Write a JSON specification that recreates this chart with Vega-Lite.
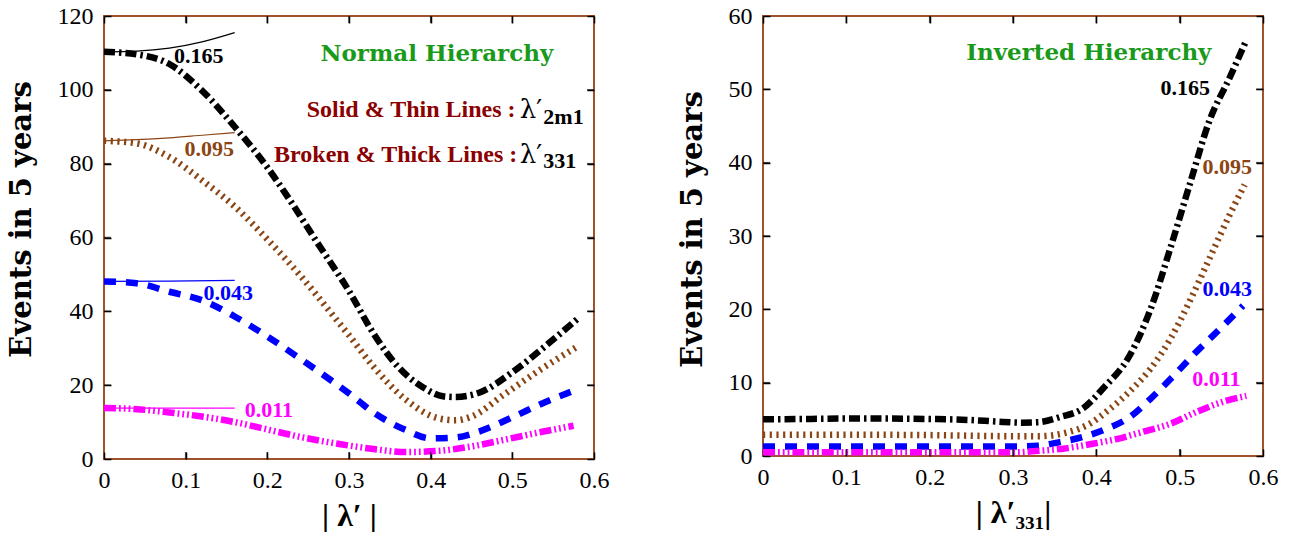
{
  "$schema": "https://vega.github.io/schema/vega-lite/v6.json",
  "padding": {"left": 6, "top": 3, "right": 5, "bottom": 0},
  "spacing": 67,
  "config": {
    "view": {"stroke": "#A0522D", "strokeWidth": 2},
    "axis": {
      "domain": true, "domainOpacity": 0, "grid": false, "ticks": true, "tickColor": "black", "tickOpacity": 1, "tickSize": 7, "tickWidth": 1.5, "offset": -7, "zindex": 1,
      "labelFont": "Liberation Serif", "labelFontSize": 24, "labelColor": "#000000",
      "titleFont": "DejaVu Serif", "titleFontWeight": "bold", "titleFontSize": 29, "titleColor": "#000000"
    },
    "axisX": {"labelPadding": 9, "labelFlush": false, "titleFont": "Liberation Serif", "titleFontSize": 32, "titlePadding": 8},
    "axisY": {"labelPadding": 11, "titlePadding": 21},
    "tick": {"color": "#000000", "thickness": 1.5, "size": 7}
  },
  "datasets": {
    "nh_thick": [
      {"c": "0.165", "x": 0, "y": 110.3}, {"c": "0.165", "x": 0.04, "y": 109.6}, {"c": "0.165", "x": 0.08, "y": 107}, {"c": "0.165", "x": 0.12, "y": 99.8}, {"c": "0.165", "x": 0.16, "y": 90}, {"c": "0.165", "x": 0.2, "y": 79}, {"c": "0.165", "x": 0.225, "y": 71}, {"c": "0.165", "x": 0.26, "y": 59}, {"c": "0.165", "x": 0.3, "y": 45.5}, {"c": "0.165", "x": 0.33, "y": 34}, {"c": "0.165", "x": 0.36, "y": 25}, {"c": "0.165", "x": 0.39, "y": 19.5}, {"c": "0.165", "x": 0.415, "y": 17}, {"c": "0.165", "x": 0.43, "y": 16.8}, {"c": "0.165", "x": 0.46, "y": 18}, {"c": "0.165", "x": 0.5, "y": 23.5}, {"c": "0.165", "x": 0.54, "y": 30.5}, {"c": "0.165", "x": 0.58, "y": 38},
      {"c": "0.095", "x": 0, "y": 86.2}, {"c": "0.095", "x": 0.04, "y": 85.5}, {"c": "0.095", "x": 0.08, "y": 81.8}, {"c": "0.095", "x": 0.12, "y": 75.5}, {"c": "0.095", "x": 0.16, "y": 68.4}, {"c": "0.095", "x": 0.2, "y": 59.5}, {"c": "0.095", "x": 0.24, "y": 49.8}, {"c": "0.095", "x": 0.28, "y": 39}, {"c": "0.095", "x": 0.3, "y": 33.5}, {"c": "0.095", "x": 0.33, "y": 25}, {"c": "0.095", "x": 0.37, "y": 16}, {"c": "0.095", "x": 0.41, "y": 11}, {"c": "0.095", "x": 0.43, "y": 10.5}, {"c": "0.095", "x": 0.45, "y": 11.5}, {"c": "0.095", "x": 0.49, "y": 17.5}, {"c": "0.095", "x": 0.535, "y": 24.3}, {"c": "0.095", "x": 0.58, "y": 30.5},
      {"c": "0.043", "x": 0, "y": 48.1}, {"c": "0.043", "x": 0.04, "y": 47.6}, {"c": "0.043", "x": 0.08, "y": 45.3}, {"c": "0.043", "x": 0.12, "y": 43}, {"c": "0.043", "x": 0.16, "y": 38.6}, {"c": "0.043", "x": 0.2, "y": 33.2}, {"c": "0.043", "x": 0.24, "y": 27.2}, {"c": "0.043", "x": 0.28, "y": 21}, {"c": "0.043", "x": 0.3, "y": 17.8}, {"c": "0.043", "x": 0.33, "y": 12.6}, {"c": "0.043", "x": 0.37, "y": 7.8}, {"c": "0.043", "x": 0.4, "y": 5.6}, {"c": "0.043", "x": 0.43, "y": 5.8}, {"c": "0.043", "x": 0.46, "y": 7.5}, {"c": "0.043", "x": 0.5, "y": 11.3}, {"c": "0.043", "x": 0.54, "y": 15.4}, {"c": "0.043", "x": 0.58, "y": 18.9},
      {"c": "0.011", "x": 0, "y": 13.8}, {"c": "0.011", "x": 0.04, "y": 13.5}, {"c": "0.011", "x": 0.08, "y": 12.6}, {"c": "0.011", "x": 0.12, "y": 11.5}, {"c": "0.011", "x": 0.16, "y": 10}, {"c": "0.011", "x": 0.2, "y": 8}, {"c": "0.011", "x": 0.24, "y": 6}, {"c": "0.011", "x": 0.29, "y": 4}, {"c": "0.011", "x": 0.33, "y": 2.7}, {"c": "0.011", "x": 0.37, "y": 1.9}, {"c": "0.011", "x": 0.41, "y": 2.2}, {"c": "0.011", "x": 0.45, "y": 3.4}, {"c": "0.011", "x": 0.49, "y": 5.2}, {"c": "0.011", "x": 0.535, "y": 7.3}, {"c": "0.011", "x": 0.575, "y": 9}
    ],
    "nh_thin": [
      {"c": "0.165", "x": 0, "y": 110.3}, {"c": "0.165", "x": 0.04, "y": 110.5}, {"c": "0.165", "x": 0.08, "y": 111.3}, {"c": "0.165", "x": 0.12, "y": 113}, {"c": "0.165", "x": 0.16, "y": 115.5},
      {"c": "0.095", "x": 0, "y": 86.2}, {"c": "0.095", "x": 0.04, "y": 86.5}, {"c": "0.095", "x": 0.08, "y": 87}, {"c": "0.095", "x": 0.12, "y": 87.7}, {"c": "0.095", "x": 0.16, "y": 88.4},
      {"c": "0.043", "x": 0, "y": 48.1}, {"c": "0.043", "x": 0.08, "y": 48.2}, {"c": "0.043", "x": 0.16, "y": 48.4},
      {"c": "0.011", "x": 0, "y": 13.8}, {"c": "0.011", "x": 0.16, "y": 13.8}
    ],
    "nh_labels": [
      {"c": "0.165", "x": 0.116, "y": 109.3}, {"c": "0.095", "x": 0.129, "y": 84}, {"c": "0.043", "x": 0.152, "y": 45.1}, {"c": "0.011", "x": 0.202, "y": 13.3}
    ],
    "nh_notes": [
      {"k": "head", "t": "Normal Hierarchy", "x": 0.4076, "y": 107.9},
      {"k": "red", "t": "Solid & Thin Lines :", "x": 0.504, "y": 92.7},
      {"k": "red", "t": "Broken & Thick Lines :", "x": 0.506, "y": 80.5},
      {"k": "lam", "t": "λ′", "x": 0.509, "y": 92.4},
      {"k": "lam", "t": "λ′", "x": 0.509, "y": 80.3},
      {"k": "sub", "t": "2m1", "x": 0.538, "y": 90.8},
      {"k": "sub", "t": "331", "x": 0.538, "y": 78.9}
    ],
    "nh_xticks": [{"v": 0.1, "lo": 0, "hi": 120}, {"v": 0.2, "lo": 0, "hi": 120}, {"v": 0.3, "lo": 0, "hi": 120}, {"v": 0.4, "lo": 0, "hi": 120}, {"v": 0.5, "lo": 0, "hi": 120}],
    "nh_yticks": [{"v": 20, "lo": 0, "hi": 0.6}, {"v": 40, "lo": 0, "hi": 0.6}, {"v": 60, "lo": 0, "hi": 0.6}, {"v": 80, "lo": 0, "hi": 0.6}, {"v": 100, "lo": 0, "hi": 0.6}],
    "ih_xticks": [{"v": 0.1, "lo": 0, "hi": 60}, {"v": 0.2, "lo": 0, "hi": 60}, {"v": 0.3, "lo": 0, "hi": 60}, {"v": 0.4, "lo": 0, "hi": 60}, {"v": 0.5, "lo": 0, "hi": 60}],
    "ih_yticks": [{"v": 10, "lo": 0, "hi": 0.6}, {"v": 20, "lo": 0, "hi": 0.6}, {"v": 30, "lo": 0, "hi": 0.6}, {"v": 40, "lo": 0, "hi": 0.6}, {"v": 50, "lo": 0, "hi": 0.6}],
    "ih_thick": [
      {"c": "0.165", "x": 0, "y": 5.0}, {"c": "0.165", "x": 0.05, "y": 5.05}, {"c": "0.165", "x": 0.1, "y": 5.1}, {"c": "0.165", "x": 0.15, "y": 5.1}, {"c": "0.165", "x": 0.2, "y": 5.05}, {"c": "0.165", "x": 0.25, "y": 4.9}, {"c": "0.165", "x": 0.28, "y": 4.7}, {"c": "0.165", "x": 0.31, "y": 4.55}, {"c": "0.165", "x": 0.33, "y": 4.6}, {"c": "0.165", "x": 0.356, "y": 5.3}, {"c": "0.165", "x": 0.384, "y": 6.5}, {"c": "0.165", "x": 0.408, "y": 9.2}, {"c": "0.165", "x": 0.44, "y": 13.7}, {"c": "0.165", "x": 0.465, "y": 20}, {"c": "0.165", "x": 0.489, "y": 28.4}, {"c": "0.165", "x": 0.512, "y": 37}, {"c": "0.165", "x": 0.536, "y": 45.8}, {"c": "0.165", "x": 0.56, "y": 51.6}, {"c": "0.165", "x": 0.58, "y": 56.7},
      {"c": "0.095", "x": 0, "y": 2.9}, {"c": "0.095", "x": 0.1, "y": 2.9}, {"c": "0.095", "x": 0.2, "y": 2.85}, {"c": "0.095", "x": 0.3, "y": 2.7}, {"c": "0.095", "x": 0.33, "y": 2.7}, {"c": "0.095", "x": 0.368, "y": 3.3}, {"c": "0.095", "x": 0.392, "y": 4.4}, {"c": "0.095", "x": 0.416, "y": 6.4}, {"c": "0.095", "x": 0.44, "y": 8.8}, {"c": "0.095", "x": 0.465, "y": 11.9}, {"c": "0.095", "x": 0.489, "y": 16}, {"c": "0.095", "x": 0.512, "y": 21.1}, {"c": "0.095", "x": 0.536, "y": 27}, {"c": "0.095", "x": 0.56, "y": 32.9}, {"c": "0.095", "x": 0.578, "y": 37},
      {"c": "0.043", "x": 0, "y": 1.3}, {"c": "0.043", "x": 0.1, "y": 1.3}, {"c": "0.043", "x": 0.2, "y": 1.3}, {"c": "0.043", "x": 0.3, "y": 1.3}, {"c": "0.043", "x": 0.33, "y": 1.4}, {"c": "0.043", "x": 0.356, "y": 1.9}, {"c": "0.043", "x": 0.384, "y": 2.6}, {"c": "0.043", "x": 0.412, "y": 3.7}, {"c": "0.043", "x": 0.44, "y": 5.3}, {"c": "0.043", "x": 0.465, "y": 7.8}, {"c": "0.043", "x": 0.489, "y": 10.5}, {"c": "0.043", "x": 0.52, "y": 14.2}, {"c": "0.043", "x": 0.549, "y": 17.4}, {"c": "0.043", "x": 0.576, "y": 20.5},
      {"c": "0.011", "x": 0, "y": 0.5}, {"c": "0.011", "x": 0.1, "y": 0.5}, {"c": "0.011", "x": 0.2, "y": 0.5}, {"c": "0.011", "x": 0.3, "y": 0.5}, {"c": "0.011", "x": 0.33, "y": 0.7}, {"c": "0.011", "x": 0.36, "y": 1.0}, {"c": "0.011", "x": 0.392, "y": 1.6}, {"c": "0.011", "x": 0.424, "y": 2.3}, {"c": "0.011", "x": 0.456, "y": 3.3}, {"c": "0.011", "x": 0.489, "y": 4.4}, {"c": "0.011", "x": 0.52, "y": 6.0}, {"c": "0.011", "x": 0.552, "y": 7.4}, {"c": "0.011", "x": 0.58, "y": 8.2}
    ],
    "ih_labels": [
      {"c": "0.165", "x": 0.5066, "y": 50.2}, {"c": "0.095", "x": 0.557, "y": 39.4}, {"c": "0.043", "x": 0.557, "y": 22.8}, {"c": "0.011", "x": 0.544, "y": 10.5}
    ],
    "ih_notes": [
      {"k": "head", "t": "Inverted Hierarchy", "x": 0.391, "y": 54}
    ]
  },
  "hconcat": [
    {
      "width": 490,
      "height": 443,
      "layer": [
        {
          "data": {"name": "nh_thick"},
          "mark": {"type": "line", "strokeWidth": 6.5, "interpolate": "monotone", "strokeCap": "butt"},
          "encoding": {
            "x": {"field": "x", "type": "quantitative", "scale": {"domain": [0, 0.6], "nice": false}, "axis": {"orient": "bottom", "values": [0, 0.1, 0.2, 0.3, 0.4, 0.5, 0.6], "format": ".1~f", "title": "| λ′ |", "labelFont": "Liberation Serif", "titleFont": "Liberation Serif", "titleFontWeight": "bold", "titleFontSize": 32}},
            "y": {"field": "y", "type": "quantitative", "scale": {"domain": [0, 120], "nice": false}, "axis": {"orient": "left", "values": [0, 20, 40, 60, 80, 100, 120], "title": "Events in 5 years", "labelFont": "Liberation Serif", "titleFont": "DejaVu Serif", "titleFontWeight": "bold", "titleFontSize": 29, "titleY": 203}},
            "color": {"field": "c", "type": "nominal", "scale": {"domain": ["0.165", "0.095", "0.043", "0.011"], "range": ["#000000", "#8B4513", "#0000FF", "#FF00FF"]}, "legend": null},
            "strokeDash": {"field": "c", "type": "nominal", "scale": {"domain": ["0.165", "0.095", "0.043", "0.011"], "range": [[11, 4, 2.5, 4], [2.2, 4.5], [12, 10], [12, 3, 1.8, 3, 1.8, 3, 1.8, 3]]}, "legend": null}
          }
        },
        {
          "data": {"name": "nh_thin"},
          "mark": {"type": "line", "strokeWidth": 1.2, "interpolate": "monotone"},
          "encoding": {
            "x": {"field": "x", "type": "quantitative", "scale": {"domain": [0, 0.6], "nice": false}, "axis": {"orient": "top", "values": [0, 0.1, 0.2, 0.3, 0.4, 0.5, 0.6], "labels": false, "title": null}},
            "y": {"field": "y", "type": "quantitative", "scale": {"domain": [0, 120], "nice": false}, "axis": {"orient": "right", "values": [0, 20, 40, 60, 80, 100, 120], "labels": false, "title": null}},
            "color": {"field": "c", "type": "nominal", "legend": null}
          }
        },
        {
          "data": {"name": "nh_xticks"},
          "mark": {"type": "tick", "orient": "vertical", "yOffset": -3.5},
          "encoding": {"x": {"field": "v", "type": "quantitative", "axis": null}, "y": {"field": "lo", "type": "quantitative", "axis": null}}
        },
        {
          "data": {"name": "nh_xticks"},
          "mark": {"type": "tick", "orient": "vertical", "yOffset": 3.5},
          "encoding": {"x": {"field": "v", "type": "quantitative", "axis": null}, "y": {"field": "hi", "type": "quantitative", "axis": null}}
        },
        {
          "data": {"name": "nh_yticks"},
          "mark": {"type": "tick", "orient": "horizontal", "xOffset": 3.5},
          "encoding": {"y": {"field": "v", "type": "quantitative", "axis": null}, "x": {"field": "lo", "type": "quantitative", "axis": null}}
        },
        {
          "data": {"name": "nh_yticks"},
          "mark": {"type": "tick", "orient": "horizontal", "xOffset": -3.5},
          "encoding": {"y": {"field": "v", "type": "quantitative", "axis": null}, "x": {"field": "hi", "type": "quantitative", "axis": null}}
        },
        {
          "data": {"name": "nh_labels"},
          "mark": {"type": "text", "font": "Liberation Serif", "fontWeight": "bold", "fontSize": 22, "align": "center", "baseline": "middle"},
          "encoding": {
            "x": {"field": "x", "type": "quantitative", "axis": null},
            "y": {"field": "y", "type": "quantitative", "axis": null},
            "text": {"field": "c"},
            "color": {"field": "c", "type": "nominal", "legend": null}
          }
        },
        {
          "data": {"name": "nh_notes"},
          "transform": [{"filter": "datum.k === 'head'"}],
          "mark": {"type": "text", "font": "DejaVu Serif", "fontWeight": "bold", "fontSize": 23, "align": "center", "baseline": "alphabetic", "color": "#1A9A1A"},
          "encoding": {
            "x": {"field": "x", "type": "quantitative", "axis": null},
            "y": {"field": "y", "type": "quantitative", "axis": null},
            "text": {"field": "t"}
          }
        },
        {
          "data": {"name": "nh_notes"},
          "transform": [{"filter": "datum.k === 'red'"}],
          "mark": {"type": "text", "font": "Liberation Serif", "fontWeight": "bold", "fontSize": 24, "align": "right", "baseline": "alphabetic", "color": "#8B0000"},
          "encoding": {
            "x": {"field": "x", "type": "quantitative", "axis": null},
            "y": {"field": "y", "type": "quantitative", "axis": null},
            "text": {"field": "t"}
          }
        },
        {
          "data": {"name": "nh_notes"},
          "transform": [{"filter": "datum.k === 'lam'"}],
          "mark": {"type": "text", "font": "DejaVu Serif", "fontSize": 26, "align": "left", "baseline": "alphabetic", "color": "#000000"},
          "encoding": {
            "x": {"field": "x", "type": "quantitative", "axis": null},
            "y": {"field": "y", "type": "quantitative", "axis": null},
            "text": {"field": "t"}
          }
        },
        {
          "data": {"name": "nh_notes"},
          "transform": [{"filter": "datum.k === 'sub'"}],
          "mark": {"type": "text", "font": "Liberation Serif", "fontWeight": "bold", "fontSize": 22, "align": "left", "baseline": "alphabetic", "color": "#000000"},
          "encoding": {
            "x": {"field": "x", "type": "quantitative", "axis": null},
            "y": {"field": "y", "type": "quantitative", "axis": null},
            "text": {"field": "t"}
          }
        }
      ]
    },
    {
      "width": 500,
      "height": 440,
      "layer": [
        {
          "data": {"name": "ih_thick"},
          "mark": {"type": "line", "strokeWidth": 6.5, "interpolate": "monotone", "strokeCap": "butt"},
          "encoding": {
            "x": {"field": "x", "type": "quantitative", "scale": {"domain": [0, 0.6], "nice": false}, "axis": {"orient": "bottom", "values": [0, 0.1, 0.2, 0.3, 0.4, 0.5, 0.6], "format": ".1~f", "title": "| λ′₃₃₁|", "labelFont": "Liberation Serif", "titleFont": "Liberation Serif", "titleFontWeight": "bold", "titleFontSize": 32}},
            "y": {"field": "y", "type": "quantitative", "scale": {"domain": [0, 60], "nice": false}, "axis": {"orient": "left", "values": [0, 10, 20, 30, 40, 50, 60], "title": "Events in 5 years", "labelFont": "Liberation Serif", "titleFont": "DejaVu Serif", "titleFontWeight": "bold", "titleFontSize": 29, "titleY": 213}},
            "color": {"field": "c", "type": "nominal", "scale": {"domain": ["0.165", "0.095", "0.043", "0.011"], "range": ["#000000", "#8B4513", "#0000FF", "#FF00FF"]}, "legend": null},
            "strokeDash": {"field": "c", "type": "nominal", "scale": {"domain": ["0.165", "0.095", "0.043", "0.011"], "range": [[11, 4, 2.5, 4], [2.2, 4.5], [12, 10], [12, 3, 1.8, 3, 1.8, 3, 1.8, 3]]}, "legend": null}
          }
        },
        {
          "data": {"name": "ih_labels"},
          "mark": {"type": "text", "font": "Liberation Serif", "fontWeight": "bold", "fontSize": 22, "align": "center", "baseline": "middle"},
          "encoding": {
            "x": {"field": "x", "type": "quantitative", "scale": {"domain": [0, 0.6], "nice": false}, "axis": {"orient": "top", "values": [0, 0.1, 0.2, 0.3, 0.4, 0.5, 0.6], "labels": false, "title": null}},
            "y": {"field": "y", "type": "quantitative", "scale": {"domain": [0, 60], "nice": false}, "axis": {"orient": "right", "values": [0, 10, 20, 30, 40, 50, 60], "labels": false, "title": null}},
            "text": {"field": "c"},
            "color": {"field": "c", "type": "nominal", "legend": null}
          }
        },
        {
          "data": {"name": "ih_xticks"},
          "mark": {"type": "tick", "orient": "vertical", "yOffset": -3.5},
          "encoding": {"x": {"field": "v", "type": "quantitative", "axis": null}, "y": {"field": "lo", "type": "quantitative", "axis": null}}
        },
        {
          "data": {"name": "ih_xticks"},
          "mark": {"type": "tick", "orient": "vertical", "yOffset": 3.5},
          "encoding": {"x": {"field": "v", "type": "quantitative", "axis": null}, "y": {"field": "hi", "type": "quantitative", "axis": null}}
        },
        {
          "data": {"name": "ih_yticks"},
          "mark": {"type": "tick", "orient": "horizontal", "xOffset": 3.5},
          "encoding": {"y": {"field": "v", "type": "quantitative", "axis": null}, "x": {"field": "lo", "type": "quantitative", "axis": null}}
        },
        {
          "data": {"name": "ih_yticks"},
          "mark": {"type": "tick", "orient": "horizontal", "xOffset": -3.5},
          "encoding": {"y": {"field": "v", "type": "quantitative", "axis": null}, "x": {"field": "hi", "type": "quantitative", "axis": null}}
        },
        {
          "data": {"name": "ih_notes"},
          "mark": {"type": "text", "font": "DejaVu Serif", "fontWeight": "bold", "fontSize": 23, "align": "center", "baseline": "alphabetic", "color": "#1A9A1A"},
          "encoding": {
            "x": {"field": "x", "type": "quantitative", "axis": null},
            "y": {"field": "y", "type": "quantitative", "axis": null},
            "text": {"field": "t"}
          }
        }
      ]
    }
  ]
}
